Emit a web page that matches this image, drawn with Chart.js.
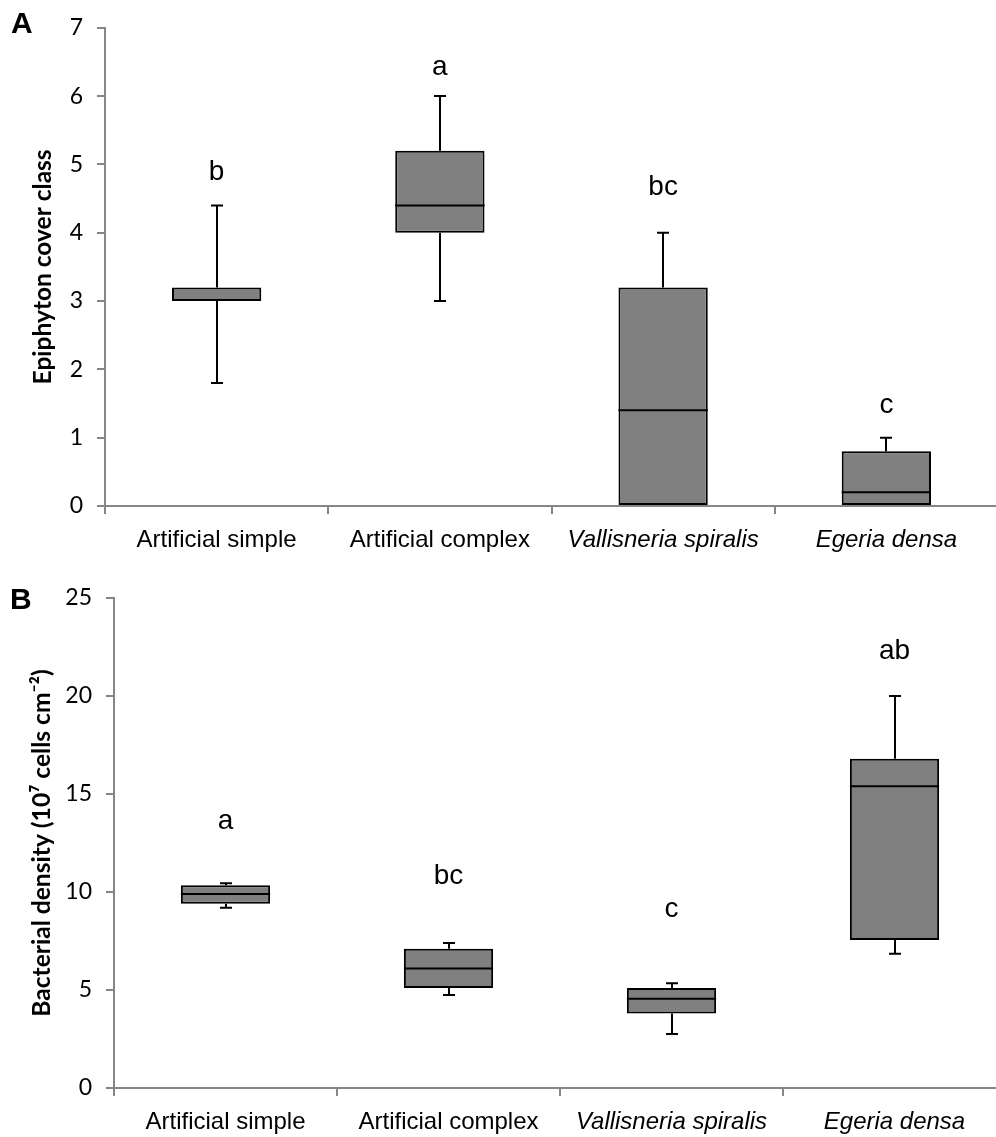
<!DOCTYPE html>
<html>
<head>
<meta charset="utf-8">
<script src="https://cdn.jsdelivr.net/npm/chart.js@4.4.1/dist/chart.umd.min.js"></script>
<style>
  html, body { margin: 0; padding: 0; background: #fff; }
  body { width: 996px; height: 1137px; overflow: hidden; position: relative; }
  #wrapA { position: absolute; left: 0; top: 0; width: 1000px; height: 560px; }
  #wrapB { position: absolute; left: 0; top: 560px; width: 1010px; height: 577px; }
  .panel { position: absolute; font: bold 30px "Liberation Sans", Arial, sans-serif; line-height: 1; color: #000; }
</style>
</head>
<body>
<div id="wrapA"><canvas id="chartA" width="1000" height="560"></canvas></div>
<div id="wrapB"><canvas id="chartB" width="1010" height="577"></canvas></div>
<div class="panel" style="left:11px; top:8px;">A</div>
<div class="panel" style="left:10px; top:584px;">B</div>

<script>
// Substrate types shared by both panels
const categories = ['Artificial simple', 'Artificial complex', 'Vallisneria spiralis', 'Egeria densa'];

// Panel A: epiphyton cover class (box-and-whisker summaries)
const coverMin    = [1.8, 3.0, 0.0, 0.0];
const coverQ1     = [3.0, 4.0, 0.0, 0.0];
const coverMedian = [3.0, 4.4, 1.4, 0.2];
const coverQ3     = [3.2, 5.2, 3.2, 0.8];
const coverMax    = [4.4, 6.0, 4.0, 1.0];
const coverLetters  = ['b', 'a', 'bc', 'c'];
const coverLetterAt = [4.89, 6.42, 4.66, 1.48];
const coverTicks    = [0, 1, 2, 3, 4, 5, 6, 7];

// Panel B: bacterial density, 10^7 cells per cm^2
const densMin    = [9.2, 4.75, 2.75, 6.85];
const densQ1     = [9.4, 5.1, 3.8, 7.55];
const densMedian = [9.9, 6.1, 4.55, 15.4];
const densQ3     = [10.35, 7.1, 5.1, 16.8];
const densMax    = [10.45, 7.4, 5.35, 20.0];
const densLetters  = ['a', 'bc', 'c', 'ab'];
const densLetterAt = [13.6, 10.8, 9.1, 22.3];
const densTicks    = [0, 5, 10, 15, 20, 25];

const AXIS_GREY = '#868686';
const BOX_FILL = '#808080';

// Font size that makes a bold Lato string span the given length
function fitTitleSize(text, length) {
  const c = document.createElement('canvas').getContext('2d');
  c.font = 'bold 100px Lato, sans-serif';
  return Math.round(100 * length / c.measureText(text).width * 10) / 10;
}

// Draws whiskers, caps, medians and significance letters on top of the floating-bar boxes
const boxWhiskerPlugin = {
  id: 'boxWhisker',
  afterDatasetsDraw(chart, args, opts) {
    const { ctx } = chart;
    const y = chart.scales.y;
    const meta = chart.getDatasetMeta(0);
    ctx.save();
    ctx.strokeStyle = '#000';
    ctx.lineWidth = 2;
    ctx.lineCap = 'butt';
    meta.data.forEach((bar, i) => {
      const cx = Math.round(bar.x);
      const half = bar.width / 2;
      const pMin = y.getPixelForValue(opts.min[i]);
      const pQ1 = y.getPixelForValue(opts.q1[i]);
      const pMed = y.getPixelForValue(opts.median[i]);
      const pQ3 = y.getPixelForValue(opts.q3[i]);
      const pMax = y.getPixelForValue(opts.max[i]);
      const cap = 6;
      ctx.beginPath();
      if (opts.max[i] > opts.q3[i]) {
        ctx.moveTo(cx, pQ3); ctx.lineTo(cx, pMax);
        ctx.moveTo(cx - cap, pMax); ctx.lineTo(cx + cap, pMax);
      }
      if (opts.min[i] < opts.q1[i]) {
        ctx.moveTo(cx, pQ1); ctx.lineTo(cx, pMin);
        ctx.moveTo(cx - cap, pMin); ctx.lineTo(cx + cap, pMin);
      }
      // a median lying on the lower quartile is already drawn by the box edge
      if (opts.median[i] > opts.q1[i]) {
        ctx.moveTo(bar.x - half, pMed); ctx.lineTo(bar.x + half, pMed);
      }
      ctx.stroke();

      ctx.fillStyle = '#000';
      ctx.font = '28px "Liberation Sans", Arial, sans-serif';
      ctx.textAlign = 'center';
      ctx.textBaseline = 'middle';
      ctx.fillText(opts.letters[i], bar.x, y.getPixelForValue(opts.letterAt[i]));
    });
    ctx.restore();
  }
};

function makeBoxChart(canvasId, cfg) {
  const titleSize = fitTitleSize(cfg.title, cfg.titleLength);
  return new Chart(document.getElementById(canvasId), {
    type: 'bar',
    data: {
      labels: categories,
      datasets: [{
        data: cfg.q1.map((q, i) => [q, cfg.q3[i]]),
        backgroundColor: BOX_FILL,
        borderColor: '#000',
        borderWidth: 2,
        borderSkipped: false,
        barPercentage: 0.40,
        categoryPercentage: 1.0
      }]
    },
    plugins: [boxWhiskerPlugin],
    options: {
      responsive: false,
      animation: false,
      events: [],
      layout: { padding: { top: cfg.padTop, right: cfg.padRight, left: 0, bottom: 0 } },
      plugins: {
        legend: { display: false },
        tooltip: { enabled: false },
        boxWhisker: {
          min: cfg.min, q1: cfg.q1, median: cfg.median, q3: cfg.q3, max: cfg.max,
          letters: cfg.letters, letterAt: cfg.letterAt
        }
      },
      scales: {
        x: {
          type: 'category',
          offset: true,
          grid: { offset: true, drawOnChartArea: false, drawTicks: true, tickLength: 8, color: AXIS_GREY, lineWidth: 2 },
          border: { color: AXIS_GREY, width: 2 },
          ticks: {
            color: '#000',
            padding: 12,
            autoSkip: false,
            maxRotation: 0,
            font: (ctx) => ({
              family: '"Liberation Sans", Arial, sans-serif',
              size: 24,
              style: ctx.index >= 2 ? 'italic' : 'normal'
            })
          },
          afterFit: (s) => { s.height = cfg.xHeight; }
        },
        y: {
          min: cfg.ticks[0],
          max: cfg.ticks[cfg.ticks.length - 1],
          afterBuildTicks: (s) => { s.ticks = cfg.ticks.map(v => ({ value: v })); },
          grid: { drawOnChartArea: false, drawTicks: true, tickLength: 8, color: AXIS_GREY, lineWidth: 2 },
          border: { color: AXIS_GREY, width: 2 },
          ticks: { color: '#000', padding: 14, font: { family: 'Lato, sans-serif', size: 23 } },
          title: {
            display: true,
            text: cfg.title,
            color: '#000',
            font: { family: 'Lato, sans-serif', size: titleSize, weight: 'bold', lineHeight: 1.2 },
            padding: { top: cfg.titleCenter - titleSize * 0.6, bottom: 0 }
          },
          afterFit: (s) => { s.width = cfg.yWidth; }
        }
      }
    }
  });
}

makeBoxChart('chartA', {
  min: coverMin, q1: coverQ1, median: coverMedian, q3: coverQ3, max: coverMax,
  letters: coverLetters, letterAt: coverLetterAt, ticks: coverTicks,
  title: 'Epiphyton cover class', titleLength: 235, titleCenter: 43,
  padTop: 26, padRight: 2, xHeight: 54, yWidth: 105
});

makeBoxChart('chartB', {
  min: densMin, q1: densQ1, median: densMedian, q3: densQ3, max: densMax,
  letters: densLetters, letterAt: densLetterAt, ticks: densTicks,
  title: 'Bacterial density (10\u2077 cells cm\u207B\u00B2)', titleLength: 348, titleCenter: 42,
  padTop: 38, padRight: 4, xHeight: 49, yWidth: 114
});
</script>
</body>
</html>
